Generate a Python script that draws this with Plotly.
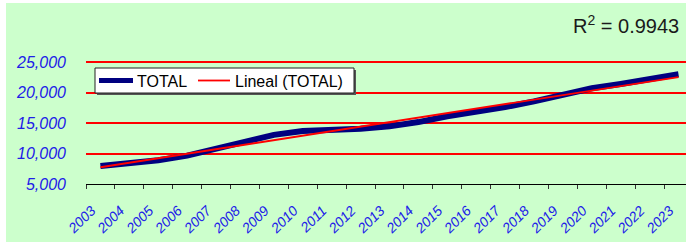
import numpy as np
import plotly.graph_objects as go

years = [str(y) for y in range(2003, 2024)]
total = [7950, 8450, 8900, 9650, 10850, 12000, 13050, 13700, 13850, 14050,
         14450, 15150, 16100, 16800, 17600, 18550, 19650, 20700, 21400, 22100, 23000]
y_ticks = [5000, 10000, 15000, 20000, 25000]
y_labels = ["5,000", "10,000", "15,000", "20,000", "25,000"]
series_names = ["TOTAL", "Lineal (TOTAL)"]
r2_text = "R<sup>2</sup> = 0.9943"

# linear trendline (least squares over the category index, as Excel does)
idx = np.arange(1, len(total) + 1)
slope, intercept = np.polyfit(idx, total, 1)
trend = list(slope * idx + intercept)

W, H = 686, 242
ML, MR, MT, MB = 86, 0, 55, 58
PW, PH = W - ML - MR, H - MT - MB

def px_x(x):
    return (x - ML) / PW

def px_y(y):
    return 1 - (y - MT) / PH

navy = "#000080"
red = "#FF0000"
green = "#CCFFCC"
blue = "#2020E8"

fig = go.Figure()
fig.add_trace(go.Scatter(x=years, y=total, mode="lines", name=series_names[0],
                         line=dict(color=navy, width=6), showlegend=False))
fig.add_trace(go.Scatter(x=years, y=trend, mode="lines", name=series_names[1],
                         line=dict(color=red, width=1.8), showlegend=False))

# legend box (drawn in paper space)
lx0, ly0, lx1, ly1 = 95, 68, 354, 93
ymid = (ly0 + ly1) / 2
shapes = [
    dict(type="rect", xref="paper", yref="paper", x0=px_x(lx0 + 2), x1=px_x(lx1 + 2),
         y0=px_y(ly1 + 2), y1=px_y(ly0 + 2), fillcolor="#555555", line=dict(width=0)),
    dict(type="rect", xref="paper", yref="paper", x0=px_x(lx0), x1=px_x(lx1),
         y0=px_y(ly1), y1=px_y(ly0), fillcolor="white", line=dict(color="#222222", width=1)),
    dict(type="line", xref="paper", yref="paper", x0=px_x(99), x1=px_x(133),
         y0=px_y(ymid), y1=px_y(ymid), line=dict(color=navy, width=5)),
    dict(type="line", xref="paper", yref="paper", x0=px_x(198), x1=px_x(230),
         y0=px_y(ymid), y1=px_y(ymid), line=dict(color=red, width=1.8)),
    # white outer strips of the picture
    dict(type="rect", xref="paper", yref="paper", x0=px_x(0), x1=px_x(6),
         y0=px_y(H), y1=px_y(0), fillcolor="white", line=dict(width=0)),
    dict(type="rect", xref="paper", yref="paper", x0=px_x(0), x1=px_x(W),
         y0=px_y(3), y1=px_y(0), fillcolor="white", line=dict(width=0)),
]
annotations = [
    dict(text=series_names[0], xref="paper", yref="paper", x=px_x(135), y=px_y(ymid + 0.5),
         xanchor="left", yanchor="middle", showarrow=False,
         font=dict(size=16, color="black")),
    dict(text=series_names[1], xref="paper", yref="paper", x=px_x(233), y=px_y(ymid + 0.5),
         xanchor="left", yanchor="middle", showarrow=False,
         font=dict(size=16, color="black")),
    dict(text=r2_text, xref="paper", yref="paper", x=px_x(681), y=px_y(24),
         xanchor="right", yanchor="middle", showarrow=False,
         font=dict(size=20, color="#1a1a1a")),
]

fig.update_layout(
    width=W, height=H,
    margin=dict(l=ML, r=MR, t=MT, b=MB, autoexpand=False),
    paper_bgcolor=green, plot_bgcolor=green,
    font=dict(family="Liberation Sans, Arial, sans-serif"),
    showlegend=False,
    xaxis=dict(type="category", range=[-0.5, (W - 100.5) / 28.9],
               tickson="boundaries", ticks="outside", ticklen=4, tickcolor="#333333",
               showline=True, linecolor="black", linewidth=1, showgrid=False,
               tickangle=-45, ticklabelstandoff=12, ticklabelshift=-9,
               tickfont=dict(size=14, color=blue, style="italic"),
               fixedrange=True),
    yaxis=dict(range=[5000, 5000 + PH / 30.5 * 5000], tickvals=y_ticks, ticktext=y_labels,
               showgrid=True, gridcolor=red, gridwidth=1.5, zeroline=False,
               showline=False, ticks="", ticklabelstandoff=19,
               tickfont=dict(size=16, color=blue, style="italic"),
               fixedrange=True),
    shapes=shapes,
    annotations=annotations,
)

fig.write_html("out.html", config={"displayModeBar": False},
               post_script="document.body.style.margin='0';document.body.style.overflow='hidden';")
